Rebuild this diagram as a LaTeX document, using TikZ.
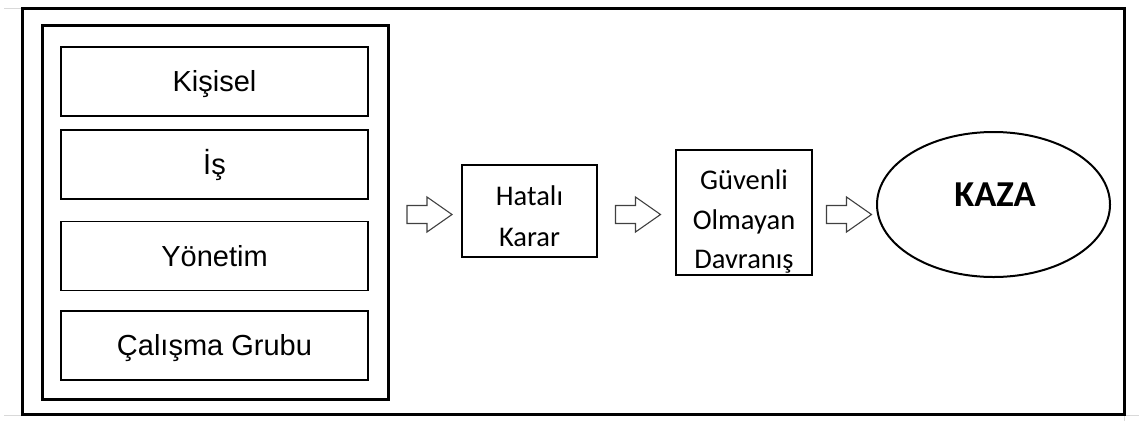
\documentclass[tikz,border=0pt]{standalone}
\usepackage{fontspec}
\setmainfont{Liberation Sans}
\newfontfamily\calibrifont{Carlito}
\usetikzlibrary{shapes.geometric}

\tikzset{
  frame/.style={draw=black, line width=3pt},
  factorbox/.style={draw=black, line width=1.5pt, minimum width=307pt, minimum height=69pt,
    inner sep=0pt, text height=20.8pt, text depth=0pt,
    font=\fontsize{29}{34}\selectfont},
  stagebox/.style={draw=black, line width=1.2pt, inner sep=0pt},
  stagetext/.style={anchor=base, inner sep=0pt, font=\calibrifont\fontsize{28.5}{33}\selectfont},
  grid/.style={draw=black!15, line width=0.8pt},
  % hollow block arrow centred on the pic's origin, pointing right
  blockarrow/.pic={
    \draw[draw=black!75, line width=1.1pt, line join=miter, fill=white]
      (-22.5,-9) -- (-2.5,-9) -- (-2.5,-17.5) -- (22.5,0) -- (-2.5,17.5)
      -- (-2.5,9) -- (-22.5,9) -- cycle;
  }
}

\begin{document}
\begin{tikzpicture}[x=1pt, y=-1pt]
  \useasboundingbox (0,0) rectangle (1139,421);

  % faint sheet gridlines around the frame
  \draw[grid] (4,8) -- (22,8);
  \draw[grid] (4,415) -- (22,415);
  \draw[grid] (1124,415) -- (1139,415);
  \draw[grid] (1124,414) -- (1124,421);

  % outer frame and the group of factors
  \draw[frame] (22,8) rectangle (1124,414);
  \draw[frame] (42.5,25) rectangle (388,399);

  % factors
  \node[factorbox] (kisisel) at (214.5,81.5)  {Kişisel};
  \node[factorbox] (is)      at (214.5,164.5) {İş};
  \node[factorbox] (yonetim) at (214.5,256)   {Yönetim};
  \node[factorbox] (grup)    at (214.5,345.5) {Çalışma Grubu};

  % faulty decision
  \node[stagebox, minimum width=135pt, minimum height=92pt] (karar) at (529.5,211) {};
  \node[stagetext] (karar1) at (529.5,205) {Hatalı};
  \node[stagetext] (karar2) at (529.5,246) {Karar};

  % unsafe behaviour
  \node[stagebox, minimum width=136pt, minimum height=125pt] (davranis) at (744,212.5) {};
  \node[stagetext] (davranis1) at (744,189.3) {Güvenli};
  \node[stagetext] (davranis2) at (744,229)   {Olmayan};
  \node[stagetext] (davranis3) at (744,268)   {Davranış};

  % accident
  \node[ellipse, draw=black, line width=2pt, minimum width=233pt, minimum height=145pt,
        inner sep=0pt] (kaza) at (993.5,204.5) {};
  \node[anchor=base, inner sep=0pt, font=\calibrifont\bfseries\fontsize{36.5}{42}\selectfont]
        (kazatext) at (995,206) {KAZA};

  % block arrows between stages
  \pic (ok1) at (429.5,214.5) {blockarrow};
  \pic (ok2) at (638,214.5) {blockarrow};
  \pic (ok3) at (849,214.5) {blockarrow};
\end{tikzpicture}
\end{document}
